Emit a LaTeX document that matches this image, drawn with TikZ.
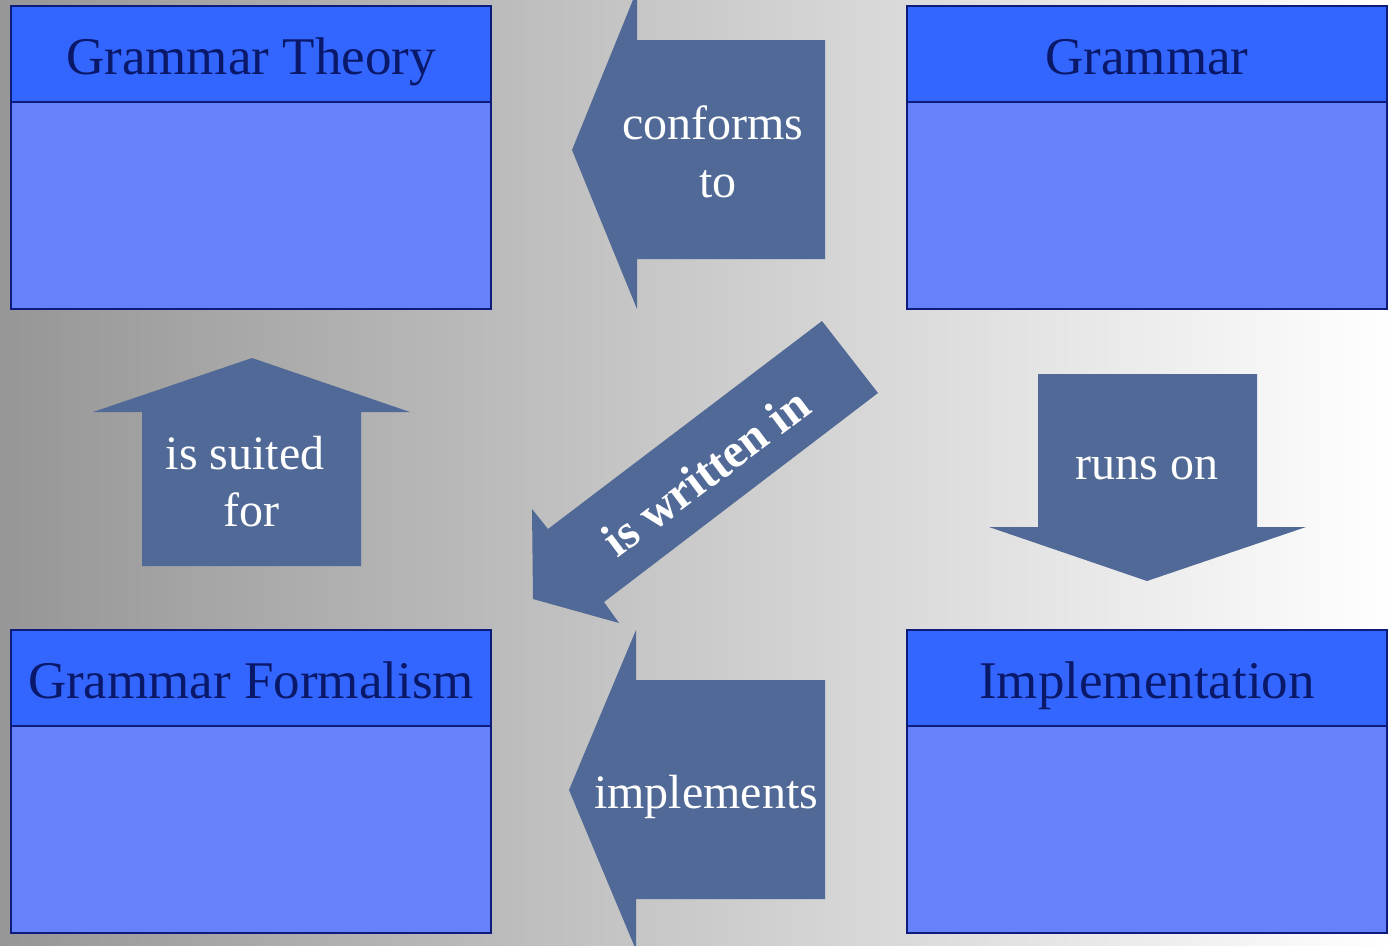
\documentclass[tikz,border=0pt]{standalone}
\usepackage{fontspec}
\setmainfont{Liberation Serif}
\definecolor{hdrfill}{RGB}{51,102,255}
\definecolor{bodyfill}{RGB}{102,130,250}
\definecolor{boxline}{RGB}{12,28,120}
\definecolor{hdrtext}{RGB}{10,24,105}
\definecolor{arrowfill}{RGB}{81,105,150}
\tikzset{
  hdr/.style={fill=hdrfill,draw=boxline,line width=2pt},
  bdy/.style={fill=bodyfill,draw=boxline,line width=2pt},
  title/.style={anchor=base,text=hdrtext,font=\fontsize{53}{60}\selectfont,inner sep=0pt},
  blk/.style={fill=arrowfill},
  lbl/.style={anchor=base,text=white,font=\fontsize{48}{58}\selectfont,inner sep=0pt}
}
\begin{document}
\begin{tikzpicture}[x=1pt,y=-1pt]
\useasboundingbox (0,0) rectangle (1392,945);
\shade[left color={rgb,255:red,150;green,150;blue,150},right color=white] (0,0) rectangle (1392,945);
% boxes
\draw[bdy] (11,102) rectangle (491,309);
\draw[hdr] (11,6) rectangle (491,102);
\node[title] (gt) at (251,74) {Grammar Theory};
\draw[bdy] (907,102) rectangle (1387,309);
\draw[hdr] (907,6) rectangle (1387,102);
\node[title] (gr) at (1147,74) {Grammar};
\draw[bdy] (11,726) rectangle (491,933);
\draw[hdr] (11,630) rectangle (491,726);
\node[title] (gf) at (251,698) {Grammar Formalism};
\draw[bdy] (907,726) rectangle (1387,933);
\draw[hdr] (907,630) rectangle (1387,726);
\node[title] (im) at (1147,698) {Implementation};
% conforms to
\fill[blk] (825,40) -- (637,40) -- (637,-10) -- (572,150) -- (637,309) -- (637,259) -- (825,259) -- cycle;
\node[lbl] (c1) at (713,139) {conforms};
\node[lbl] (c2) at (718,197) {to};
% implements
\fill[blk] (825,680) -- (636,680) -- (636,630) -- (569,790) -- (636,950) -- (636,899) -- (825,899) -- cycle;
\node[lbl] (ip) at (706,808) {implements};
% is suited for
\fill[blk] (142,566) -- (142,412) -- (93,412) -- (252,358) -- (410,412) -- (361,412) -- (361,566) -- cycle;
\node[lbl] (s1) at (245,469) {is suited};
\node[lbl] (s2) at (251,526) {for};
% runs on
\fill[blk] (1038,374) -- (1257,374) -- (1257,527) -- (1306,527) -- (1147,581) -- (989,527) -- (1038,527) -- cycle;
\node[lbl] (ro) at (1147,479) {runs on};
% is written in
\fill[blk] (822,321) -- (878,393) -- (604,602) -- (619,623) -- (533,599) -- (532,509) -- (548,529) -- cycle;
\node[text=white,font=\fontsize{48}{58}\selectfont\bfseries,inner sep=0pt,rotate=37] (wi) at (706,472) {is written in};
\end{tikzpicture}
\end{document}
